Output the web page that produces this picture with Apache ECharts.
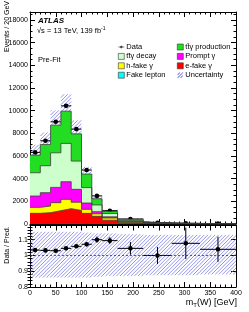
<!DOCTYPE html>
<html><head><meta charset="utf-8">
<script src="https://cdn.jsdelivr.net/npm/echarts@6/dist/echarts.min.js"></script>
<style>html,body{margin:0;padding:0;background:#fff}#c{width:249px;height:312px}</style>
</head><body><div id="c"></div>
<script>
// ---- data ----
const binEdges = [0,20,40,60,80,100,120,140,170,220,275,330,400];
const fakeLepton    = [40,45,50,55,50,35,20,12,5,2,1,0.5];
const eFakeGamma    = [900,955,1125,1295,1150,905,660,328,105,28,11,5.5];
const hFakeGamma    = [528,586,705,826,720,355,220,190,60,15,6,3];
const promptGamma   = [999,1174,1350,1554,1137,555,185,100,45,15,7,3];
const ttgDecay      = [2053,2380,3050,3380,2493,1360,595,290,85,20,10,6];
const ttgProduction = [1559,1880,2440,2845,2400,1195,550,180,120,32,17,10];
const dataValues = [6316,7340,9013,10420,8370,4757,2480,1175,440,115,57,29];
const dataErrors = [80,86,95,102,91,69,50,34,21,11,8,5];
const ratioValues = [1.034,1.032,1.03,1.045,1.058,1.071,1.10,1.094,1.045,1.0,1.077,1.039];
const ratioErrors = [0.012,0.012,0.011,0.01,0.011,0.014,0.02,0.022,0.04,0.054,0.1,0.08];
const uncUp   = [1.15,1.15,1.15,1.15,1.15,1.145,1.14,1.14,1.135,1.13,1.13,1.13];
const uncDown = [0.86,0.86,0.86,0.86,0.86,0.86,0.865,0.87,0.87,0.875,0.875,0.88];
const ratioLabelValues = [0.8,0.9,1,1.1];

// ---- build ----
const FONT = 'Liberation Sans, Arial, Helvetica, sans-serif';
const HATCH = 'rgb(112,112,232)';
const nb = dataValues.length;
const comps = [
  {name:'Fake lepton', vals:fakeLepton, color:'#00ffff'},
  {name:'e-fake γ', vals:eFakeGamma, color:'#ff0000'},
  {name:'h-fake γ', vals:hFakeGamma, color:'#ffff00'},
  {name:'Prompt γ', vals:promptGamma, color:'#ff00ff'},
  {name:'tt̄γ decay', vals:ttgDecay, color:'#ccffcc'},
  {name:'tt̄γ production', vals:ttgProduction, color:'#22dd22'}
];
let cum = new Array(nb).fill(0);
comps.forEach(c => { c.top = c.vals.map((v,i)=> cum[i] + v); cum = c.top; });
const total = cum;

function stepData(vals){
  const d = vals.map((v,i)=>[binEdges[i], v]);
  d.push([binEdges[nb], vals[nb-1]]);
  return d;
}

const stackSeries = comps.slice().reverse().map(c => ({
  type:'line', name:c.name, step:'end', xAxisIndex:0, yAxisIndex:0,
  data: stepData(c.top), symbol:'none', silent:true,
  lineStyle:{color:'#3c3c3c', width:0.8},
  itemStyle:{color:c.color},
  areaStyle:{color:c.color, opacity:1, origin:'start'}
}));

const mainBandData = total.map((t,i)=>[binEdges[i], binEdges[i+1], t*uncDown[i], t*uncUp[i]]);
const ratioBandData = total.map((t,i)=>[binEdges[i], binEdges[i+1], uncDown[i], uncUp[i]]);
const mainPts = dataValues.map((v,i)=>[binEdges[i], binEdges[i+1], v, dataErrors[i]]);
const ratioPts = ratioValues.map((v,i)=>[binEdges[i], binEdges[i+1], v, ratioErrors[i]]);

function bandRender(params, api){
  const p0 = api.coord([api.value(0), api.value(3)]);
  const p1 = api.coord([api.value(1), api.value(2)]);
  const X0 = Math.min(p0[0],p1[0]), X1 = Math.max(p0[0],p1[0]);
  const Y0 = Math.min(p0[1],p1[1]), Y1 = Math.max(p0[1],p1[1]);
  const s = 3.6, kids = [];
  for (let c = Math.ceil((X0+Y0)/s)*s; c <= X1+Y1; c += s){
    const xa = Math.max(X0, c-Y1), xb = Math.min(X1, c-Y0);
    if (xb > xa) kids.push({type:'line', shape:{x1:xa, y1:c-xa, x2:xb, y2:c-xb},
      style:{stroke:HATCH, lineWidth:0.75}});
  }
  return {type:'group', children:kids};
}
function pointRender(params, api){
  const x0 = api.value(0), x1 = api.value(1), y = api.value(2), e = api.value(3);
  const xc = (x0+x1)/2;
  const a = api.coord([x0,y]), b = api.coord([x1,y]);
  const c = api.coord([xc,y]), t = api.coord([xc,y+e]), d = api.coord([xc,y-e]);
  return {type:'group', children:[
    {type:'line', shape:{x1:a[0],y1:a[1],x2:b[0],y2:b[1]}, style:{stroke:'#000', lineWidth:1}},
    {type:'line', shape:{x1:t[0],y1:t[1],x2:d[0],y2:d[1]}, style:{stroke:'#000', lineWidth:1}},
    {type:'circle', shape:{cx:c[0], cy:c[1], r:2.3}, style:{fill:'#000'}}
  ]};
}

const axLine = {show:true, onZero:false, lineStyle:{color:'#000', width:1}};
function xAx(grid, pos, labels){
  return {type:'value', gridIndex:grid, position:pos, min:0, max:400, interval:50,
    axisLine:axLine, splitLine:{show:false},
    axisTick:{inside:true, length:5, lineStyle:{color:'#000'}},
    minorTick:{show:true, splitNumber:5, length:2.5, lineStyle:{color:'#000'}},
    axisLabel:{show:labels, fontSize:7, fontFamily:FONT, color:'#000', margin:3}};
}
const minorRatioTicks = [];
for (let v=80; v<=118; v+=2) minorRatioTicks.push(v/100);
function yRatio(pos, major, labels){
  return {type:'value', gridIndex:1, position:pos, min:0.8, max:1.19,
    axisLine: major ? axLine : {show:false}, splitLine:{show:false},
    axisTick:{inside:true, length: major?5:2.5, lineStyle:{color:'#000'},
      customValues: major ? ratioLabelValues : minorRatioTicks},
    axisLabel:{show:labels, fontSize:7, fontFamily:FONT, color:'#000', margin:2,
      customValues: ratioLabelValues}};
}
function yMain(pos, labels){
  return {type:'value', gridIndex:0, position:pos, min:0, max:18700, interval:2000,
    axisLine:axLine, splitLine:{show:false},
    axisTick:{inside:true, length:5, lineStyle:{color:'#000'}},
    minorTick:{show:true, splitNumber:4, length:2.5, lineStyle:{color:'#000'}},
    axisLabel:{show:labels, fontSize:7, fontFamily:FONT, color:'#000', margin:2,
      showMaxLabel:false, formatter: v => String(v)}};
}

const legendText = {fontSize:7.5, fontFamily:FONT, color:'#000', padding:[0,0,0,-3], lineHeight:9};
const boxStyle = c => ({color:c, borderColor:'#333', borderWidth:0.6});
const hatchIcon = 'path://M0,5.4L5.4,0L6,0.6L0.6,6Z M0,2.4L2.4,0L3,0.6L0.6,3Z M3,5.4L5.4,3L6,3.6L3.6,6Z';
const option = {
  animation:false,
  grid:[{left:30, top:12, width:206, height:212},
        {left:30, top:225.5, width:206, height:61.5}],
  xAxis:[xAx(0,'bottom',false), xAx(0,'top',false), xAx(1,'bottom',true), xAx(1,'top',false)],
  yAxis:[yMain('left',true), yMain('right',false),
         yRatio('left',true,true), yRatio('left',false,false),
         yRatio('right',true,false), yRatio('right',false,false)],
  legend:[
    {orient:'vertical', left:113, top:37.5, itemWidth:6, itemHeight:6, itemGap:0.4,
     selectedMode:false, textStyle:legendText,
     data:[
      {name:'Data', icon:'path://M0,2.6h10v0.8h-10z M2.8,3a2.2,2.2 0 1,0 4.4,0a2.2,2.2 0 1,0 -4.4,0z', itemStyle:{color:'#000', borderWidth:0}},
      {name:'tt̄γ decay', icon:'rect', itemStyle:boxStyle('#ccffcc')},
      {name:'h-fake γ', icon:'rect', itemStyle:boxStyle('#ffff00')},
      {name:'Fake lepton', icon:'rect', itemStyle:boxStyle('#00ffff')}]},
    {orient:'vertical', left:172, top:37.5, itemWidth:6, itemHeight:6, itemGap:0.4,
     selectedMode:false, textStyle:legendText,
     data:[
      {name:'tt̄γ production', icon:'rect', itemStyle:boxStyle('#22dd22')},
      {name:'Prompt γ', icon:'rect', itemStyle:boxStyle('#ff00ff')},
      {name:'e-fake γ', icon:'rect', itemStyle:boxStyle('#ff0000')},
      {name:'Uncertainty', icon:hatchIcon, itemStyle:{color:HATCH, borderWidth:0}}]}
  ],
  series: stackSeries.concat([
    {type:'custom', name:'Uncertainty', xAxisIndex:0, yAxisIndex:0, data:mainBandData,
     renderItem:bandRender, encode:{x:[0,1], y:[2,3]}, itemStyle:{color:HATCH}, silent:true},
    {type:'custom', name:'Data', xAxisIndex:0, yAxisIndex:0, data:mainPts,
     renderItem:pointRender, encode:{x:[0,1], y:[2]}, itemStyle:{color:'#000'}, silent:true},
    {type:'custom', name:'Uncertainty', xAxisIndex:2, yAxisIndex:2, data:ratioBandData,
     renderItem:bandRender, encode:{x:[0,1], y:[2,3]}, itemStyle:{color:HATCH}, silent:true},
    {type:'line', xAxisIndex:2, yAxisIndex:2, data:[[0,1],[400,1]], symbol:'none', silent:true,
     lineStyle:{color:'#333', width:0.8, type:[2,2]}},
    {type:'custom', name:'Data', xAxisIndex:2, yAxisIndex:2, data:ratioPts,
     renderItem:pointRender, encode:{x:[0,1], y:[2]}, itemStyle:{color:'#000'}, silent:true}
  ]),
  graphic:[
    {type:'text', x:38, y:21, style:{text:'ATLAS', font:'italic bold 8px '+FONT, fill:'#000', verticalAlign:'middle'}},
    {type:'text', x:37, y:31, style:{text:'{a|√s = 13 TeV, 139 fb}{b|-1}', fill:'#000', verticalAlign:'middle',
      rich:{a:{fontSize:7.5, fontFamily:FONT}, b:{fontSize:5, fontFamily:FONT, verticalAlign:'top', padding:[0,0,5,0]}}}},
    {type:'text', x:38, y:60, style:{text:'Pre-Fit', font:'7.5px '+FONT, fill:'#000', verticalAlign:'middle'}},
    {type:'text', x:7, y:1, rotation:Math.PI/2, style:{text:'Events / 20 GeV', font:'7px '+FONT, fill:'#000', align:'right', verticalAlign:'middle'}},
    {type:'text', x:7, y:245, rotation:Math.PI/2, style:{text:'Data / Pred.', font:'7px '+FONT, fill:'#000', align:'center', verticalAlign:'middle'}},
    {type:'text', x:237, y:303, style:{text:'{a|m}{s|T}{a|(W) [GeV]}', fill:'#000', align:'right', verticalAlign:'middle',
      rich:{a:{fontSize:9, fontFamily:FONT}, s:{fontSize:6, fontFamily:FONT, verticalAlign:'bottom', padding:[4,0,0,0]}}}}
  ]
};
const chart = echarts.init(document.getElementById('c'), null, {renderer:'canvas'});
chart.setOption(option);
</script></body></html>
